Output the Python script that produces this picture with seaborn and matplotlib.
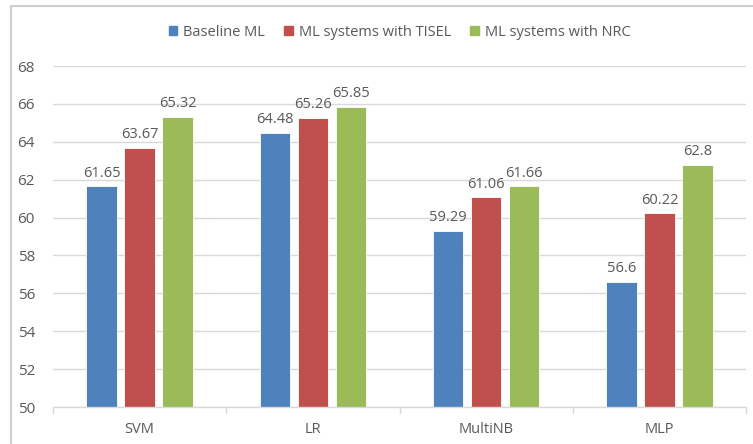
import matplotlib
matplotlib.use("Agg")
import matplotlib.pyplot as plt
import matplotlib.patches as mpatches
import seaborn as sns
import pandas as pd

models = ["SVM", "LR", "MultiNB", "MLP"]
series_names = ["Baseline ML", "ML systems with TISEL", "ML systems with NRC"]
baseline = [61.65, 64.48, 59.29, 56.6]
tisel = [63.67, 65.26, 61.06, 60.22]
nrc = [65.32, 65.85, 61.66, 62.8]
y_ticks = [50, 52, 54, 56, 58, 60, 62, 64, 66, 68]

colors = ["#4F81BD", "#C0504D", "#9BBB59"]
text_color = "#595959"
grid_color = "#D9D9D9"

rows = []
for name, vals in zip(series_names, [baseline, tisel, nrc]):
    for m, v in zip(models, vals):
        rows.append({"model": m, "series": name, "score": v})
df = pd.DataFrame(rows)

sns.set_theme(style="white")
plt.rcParams["font.family"] = ["Open Sans", "DejaVu Sans"]

fig = plt.figure(figsize=(7.53, 4.44), dpi=100)
ax_h = (407 - 66) / 444
ax = fig.add_axes([53 / 753, 1 - 407 / 444, (746 - 53) / 753, ax_h])

sns.barplot(data=df, x="model", y="score", hue="series", order=models,
            hue_order=series_names, palette=colors, width=0.66, gap=0.2,
            saturation=1, errorbar=None, ax=ax, edgecolor="white", linewidth=0.6)

for cont in ax.containers:
    labels = [f"{v:g}" for v in cont.datavalues]
    ax.bar_label(cont, labels=labels, padding=4, fontsize=10.5, color=text_color)

ax.set_ylim(50, 68)
ax.set_yticks(y_ticks)
ax.set_xlim(-0.5, len(models) - 0.5)
ax.yaxis.grid(True, color=grid_color, linewidth=1.0)
ax.set_axisbelow(True)
for side in ["top", "right", "left"]:
    ax.spines[side].set_visible(False)
ax.spines["bottom"].set_color(grid_color)
ax.spines["bottom"].set_linewidth(1.0)

ax.set_xticks(list(range(len(models))))
ax.set_xticklabels(models)
ax.tick_params(axis="x", length=0, pad=11, labelsize=10.5, labelcolor=text_color)
ax.tick_params(axis="y", length=0, pad=13, labelsize=11, labelcolor=text_color)
# category separators on the x axis
for b in [i - 0.5 for i in range(len(models) + 1)]:
    ax.plot([b, b], [0, -0.018], transform=ax.get_xaxis_transform(),
            color=grid_color, linewidth=1.0, clip_on=False)

ax.set_xlabel("")
ax.set_ylabel("")

handles = [mpatches.Patch(color=c) for c in colors]
ax.legend(handles, series_names, loc="center",
          bbox_to_anchor=(0.5, 1 + 34 / 444 / ax_h),
          ncol=3, frameon=False, fontsize=10.5, labelcolor=text_color,
          handlelength=0.6, handleheight=0.6, handletextpad=0.4, columnspacing=1.3)

# chart frame
fig.add_artist(mpatches.Rectangle((11 / 753, -0.1), 1.2, 1 - 6.5 / 444 + 0.1,
                                  transform=fig.transFigure, fill=False,
                                  edgecolor="#D0D0D0", linewidth=1.5))

fig.savefig("out.png", dpi=100)
